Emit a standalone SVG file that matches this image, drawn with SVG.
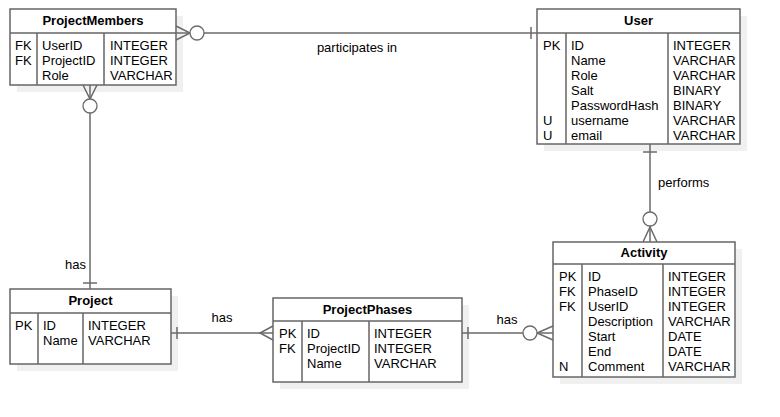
<svg xmlns="http://www.w3.org/2000/svg" width="780" height="417" viewBox="0 0 780 417">
<style>
.bg{fill:#fff}
.sh{fill:#f0f0f0}
.box{fill:#fff;stroke:#666;stroke-width:1.5}
.dv{stroke:#666;stroke-width:1.5;fill:none}
.hdr{font-family:"Liberation Sans",Arial,sans-serif;font-size:13px;font-weight:bold;text-anchor:middle;fill:#000}
.t{font-family:"Liberation Sans",Arial,sans-serif;font-size:13px;fill:#000}
.ln{stroke:#6a6a6a;stroke-width:1.5;fill:none}
.ci{fill:#fff;stroke:#6a6a6a;stroke-width:1.3}
.lb{font-family:"Liberation Sans",Arial,sans-serif;font-size:13px;fill:#000}
</style>
<rect class="bg" x="0" y="0" width="780" height="417"/>
<g id="ProjectMembers">
  <rect class="sh" x="17" y="16" width="166" height="76"/>
  <rect class="box" x="10" y="9" width="166" height="76"/>
  <path class="dv" d="M10,33 H176 M37,33 V85 M104,33 V85"/>
  <text class="hdr" x="93" y="25">ProjectMembers</text>
  <text class="t"><tspan x="15" y="50">FK</tspan><tspan x="15" y="65">FK</tspan></text>
  <text class="t"><tspan x="42" y="50">UserID</tspan><tspan x="42" y="65">ProjectID</tspan><tspan x="42" y="80">Role</tspan></text>
  <text class="t"><tspan x="110" y="50">INTEGER</tspan><tspan x="110" y="65">INTEGER</tspan><tspan x="110" y="80">VARCHAR</tspan></text>
</g>
<g id="User">
  <rect class="sh" x="544" y="16" width="203" height="135"/>
  <rect class="box" x="537" y="9" width="203" height="135"/>
  <path class="dv" d="M537,33 H740 M566,33 V144 M668,33 V144"/>
  <text class="hdr" x="638.5" y="25">User</text>
  <text class="t"><tspan x="543" y="50">PK</tspan><tspan x="543" y="125">U</tspan><tspan x="543" y="140">U</tspan></text>
  <text class="t"><tspan x="571" y="50">ID</tspan><tspan x="571" y="65">Name</tspan><tspan x="571" y="80">Role</tspan><tspan x="571" y="95">Salt</tspan><tspan x="571" y="110">PasswordHash</tspan><tspan x="571" y="125">username</tspan><tspan x="571" y="140">email</tspan></text>
  <text class="t"><tspan x="673" y="50">INTEGER</tspan><tspan x="673" y="65">VARCHAR</tspan><tspan x="673" y="80">VARCHAR</tspan><tspan x="673" y="95">BINARY</tspan><tspan x="673" y="110">BINARY</tspan><tspan x="673" y="125">VARCHAR</tspan><tspan x="673" y="140">VARCHAR</tspan></text>
</g>
<g id="Project">
  <rect class="sh" x="17" y="296" width="161" height="75"/>
  <rect class="box" x="10" y="289" width="161" height="75"/>
  <path class="dv" d="M10,313 H171 M38,313 V364 M83,313 V364"/>
  <text class="hdr" x="90.5" y="305">Project</text>
  <text class="t"><tspan x="15" y="330">PK</tspan></text>
  <text class="t"><tspan x="43" y="330">ID</tspan><tspan x="43" y="345">Name</tspan></text>
  <text class="t"><tspan x="88" y="330">INTEGER</tspan><tspan x="88" y="345">VARCHAR</tspan></text>
</g>
<g id="ProjectPhases">
  <rect class="sh" x="280" y="305" width="189" height="84"/>
  <rect class="box" x="273" y="298" width="189" height="84"/>
  <path class="dv" d="M273,321 H462 M302,321 V382 M369,321 V382"/>
  <text class="hdr" x="367.5" y="314">ProjectPhases</text>
  <text class="t"><tspan x="279" y="338">PK</tspan><tspan x="279" y="353">FK</tspan></text>
  <text class="t"><tspan x="307" y="338">ID</tspan><tspan x="307" y="353">ProjectID</tspan><tspan x="307" y="368">Name</tspan></text>
  <text class="t"><tspan x="374" y="338">INTEGER</tspan><tspan x="374" y="353">INTEGER</tspan><tspan x="374" y="368">VARCHAR</tspan></text>
</g>
<g id="Activity">
  <rect class="sh" x="560" y="249" width="182" height="135"/>
  <rect class="box" x="553" y="242" width="182" height="135"/>
  <path class="dv" d="M553,264 H735 M582,264 V377 M663,264 V377"/>
  <text class="hdr" x="644" y="257">Activity</text>
  <text class="t"><tspan x="559" y="281">PK</tspan><tspan x="559" y="296">FK</tspan><tspan x="559" y="311">FK</tspan><tspan x="559" y="371">N</tspan></text>
  <text class="t"><tspan x="588" y="281">ID</tspan><tspan x="588" y="296">PhaseID</tspan><tspan x="588" y="311">UserID</tspan><tspan x="588" y="326">Description</tspan><tspan x="588" y="341">Start</tspan><tspan x="588" y="356">End</tspan><tspan x="588" y="371">Comment</tspan></text>
  <text class="t"><tspan x="668" y="281">INTEGER</tspan><tspan x="668" y="296">INTEGER</tspan><tspan x="668" y="311">INTEGER</tspan><tspan x="668" y="326">VARCHAR</tspan><tspan x="668" y="341">DATE</tspan><tspan x="668" y="356">DATE</tspan><tspan x="668" y="371">VARCHAR</tspan></text>
</g>
<g id="connectors">
  <!-- ProjectMembers - User -->
  <line class="ln" x1="176" y1="33" x2="537" y2="33"/>
  <path class="ln" d="M176,26 L190,33 L176,40"/>
  <circle class="ci" cx="197" cy="33" r="7"/>
  <line class="ln" x1="531" y1="27" x2="531" y2="39"/>
  <text class="lb" x="357" y="52" text-anchor="middle">participates in</text>
  <!-- ProjectMembers - Project -->
  <line class="ln" x1="90" y1="85" x2="90" y2="289"/>
  <path class="ln" d="M83,85 L90,99 L97,85"/>
  <circle class="ci" cx="90" cy="106" r="7"/>
  <line class="ln" x1="83" y1="283" x2="97" y2="283"/>
  <text class="lb" x="86" y="269" text-anchor="end">has</text>
  <!-- User - Activity -->
  <line class="ln" x1="650" y1="144" x2="650" y2="242"/>
  <line class="ln" x1="643" y1="152" x2="657" y2="152"/>
  <path class="ln" d="M643,242 L650,227 L657,242"/>
  <circle class="ci" cx="650" cy="219" r="7"/>
  <text class="lb" x="658" y="187">performs</text>
  <!-- Project - ProjectPhases -->
  <line class="ln" x1="171" y1="333" x2="273" y2="333"/>
  <line class="ln" x1="177" y1="327" x2="177" y2="339"/>
  <path class="ln" d="M273,326 L260,333 L273,340"/>
  <text class="lb" x="222" y="322" text-anchor="middle">has</text>
  <!-- ProjectPhases - Activity -->
  <line class="ln" x1="462" y1="333" x2="553" y2="333"/>
  <line class="ln" x1="468" y1="327" x2="468" y2="339"/>
  <path class="ln" d="M553,326 L537,333 L553,340"/>
  <circle class="ci" cx="530" cy="333" r="7"/>
  <text class="lb" x="507" y="324" text-anchor="middle">has</text>
</g>
</svg>
